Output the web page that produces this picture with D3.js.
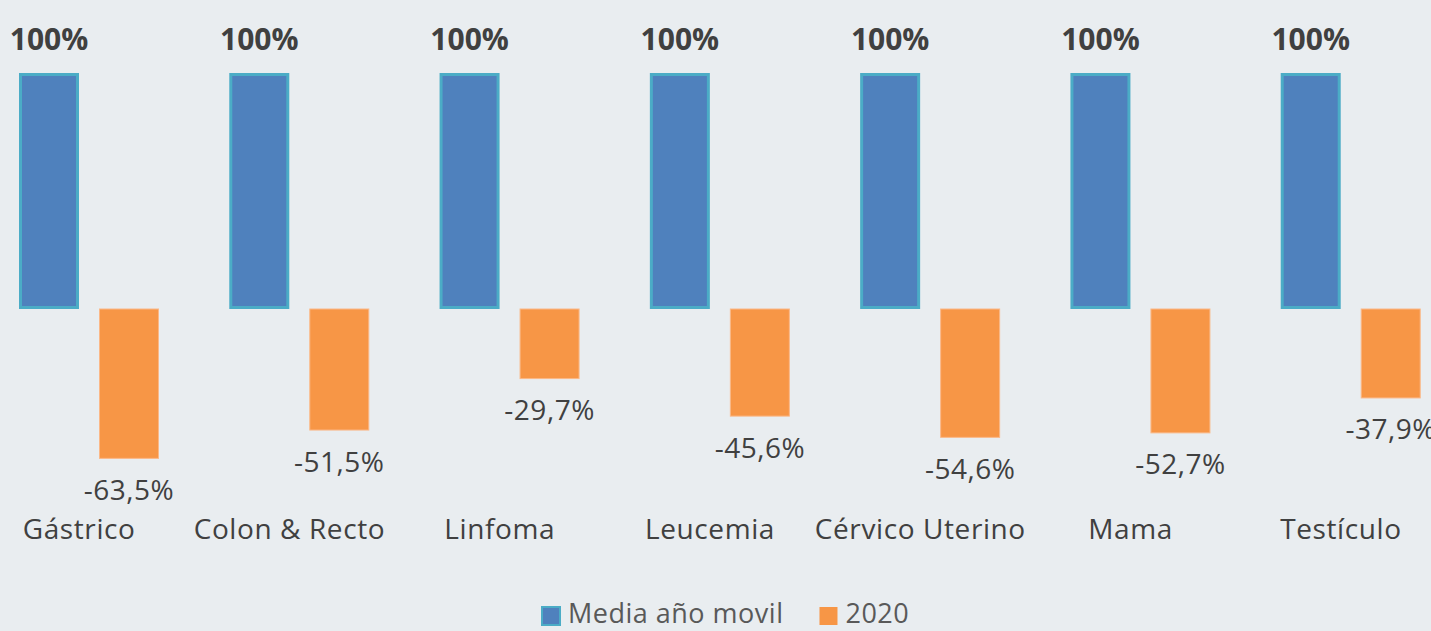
<!DOCTYPE html>
<html>
<head>
<meta charset="utf-8">
<script src="https://cdn.jsdelivr.net/npm/d3@7"></script>
<style>
  html,body{margin:0;padding:0;background:#e9edf0;overflow:hidden;}
  text{font-family:"Open Sans",sans-serif;}
</style>
</head>
<body>
<script>
var categories=["Gástrico","Colon & Recto","Linfoma","Leucemia","Cérvico Uterino","Mama","Testículo"];
var series=["Media año movil","2020"];
var mediaValues=[100,100,100,100,100,100,100];
var values2020=[-63.5,-51.5,-29.7,-45.6,-54.6,-52.7,-37.9];
var colors=["#4f81bd","#f79646"];
var strokes=["#4bacc6","#fbb887"];

var width=1431,height=631;
var svg=d3.select("body").append("svg")
    .attr("width",width)
    .attr("height",height);
svg.append("rect").attr("width",width).attr("height",height).attr("fill","#e9edf0");

var x=d3.scaleBand().domain(categories).range([-16,1456]);
var xs=d3.scaleBand().domain(series).range([35,175]).paddingInner(0.25);
var y=d3.scaleLinear().domain([-100,100]).range([545,73]);

var rows=categories.map(function(c,i){
  return {cat:c,vals:[{s:series[0],v:mediaValues[i],k:0},{s:series[1],v:values2020[i],k:1}]};
});

var g=svg.selectAll(".grp").data(rows).enter().append("g")
    .attr("class","grp")
    .attr("transform",function(d){return "translate("+x(d.cat)+",0)";});

g.selectAll("rect").data(function(d){return d.vals;}).enter().append("rect")
    .attr("x",function(d){return xs(d.s)+(d.k==0?1.5:0.5);})
    .attr("width",function(d){return xs.bandwidth()-(d.k==0?3:1);})
    .attr("y",function(d){return Math.min(y(d.v),y(0))+(d.k==0?1.5:0);})
    .attr("height",function(d){return Math.abs(y(d.v)-y(0))-(d.k==0?3:0.5);})
    .attr("fill",function(d){return colors[d.k];})
    .attr("stroke",function(d){return strokes[d.k];})
    .attr("stroke-width",function(d){return d.k==0?3:1;});

// etiquetas de valor
g.selectAll(".val").data(function(d){return d.vals;}).enter().append("text")
    .attr("class","val")
    .attr("x",function(d){return xs(d.s)+xs.bandwidth()/2;})
    .attr("y",function(d){return d.k==0?y(d.v)-23:y(d.v)+41;})
    .attr("text-anchor","middle")
    .attr("fill","#404040")
    .style("font-size",function(d){return d.k==0?"30px":"28px";})
    .style("font-weight",function(d){return d.k==0?"bold":"normal";})
    .style("letter-spacing",function(d){return d.k==0?"0px":"0.5px";})
    .text(function(d){
      return d.k==0?d.v+"%":d3.format(".1f")(d.v).replace("\u2212","-").replace(".",",")+"%";
    });

// categorias
g.append("text")
    .attr("x",x.bandwidth()/2-10)
    .attr("y",539)
    .attr("text-anchor","middle")
    .attr("fill","#404040")
    .style("font-size","28px")
    .style("letter-spacing","0.6px")
    .text(function(d){return d.cat;});

// leyenda
var leg=svg.append("g").attr("class","legend");
var lx=542;
series.forEach(function(s,i){
  leg.append("rect")
      .attr("x",lx).attr("y",607)
      .attr("width",18).attr("height",18)
      .attr("fill",colors[i])
      .attr("stroke",strokes[i])
      .attr("stroke-width",i==0?2:0);
  var t=leg.append("text")
      .attr("x",lx+26).attr("y",623)
      .attr("fill","#595959")
      .style("font-size","27px")
      .style("letter-spacing","0.5px")
      .text(s);
  lx+=26+t.node().getComputedTextLength()+36;
});
</script>
</body>
</html>
